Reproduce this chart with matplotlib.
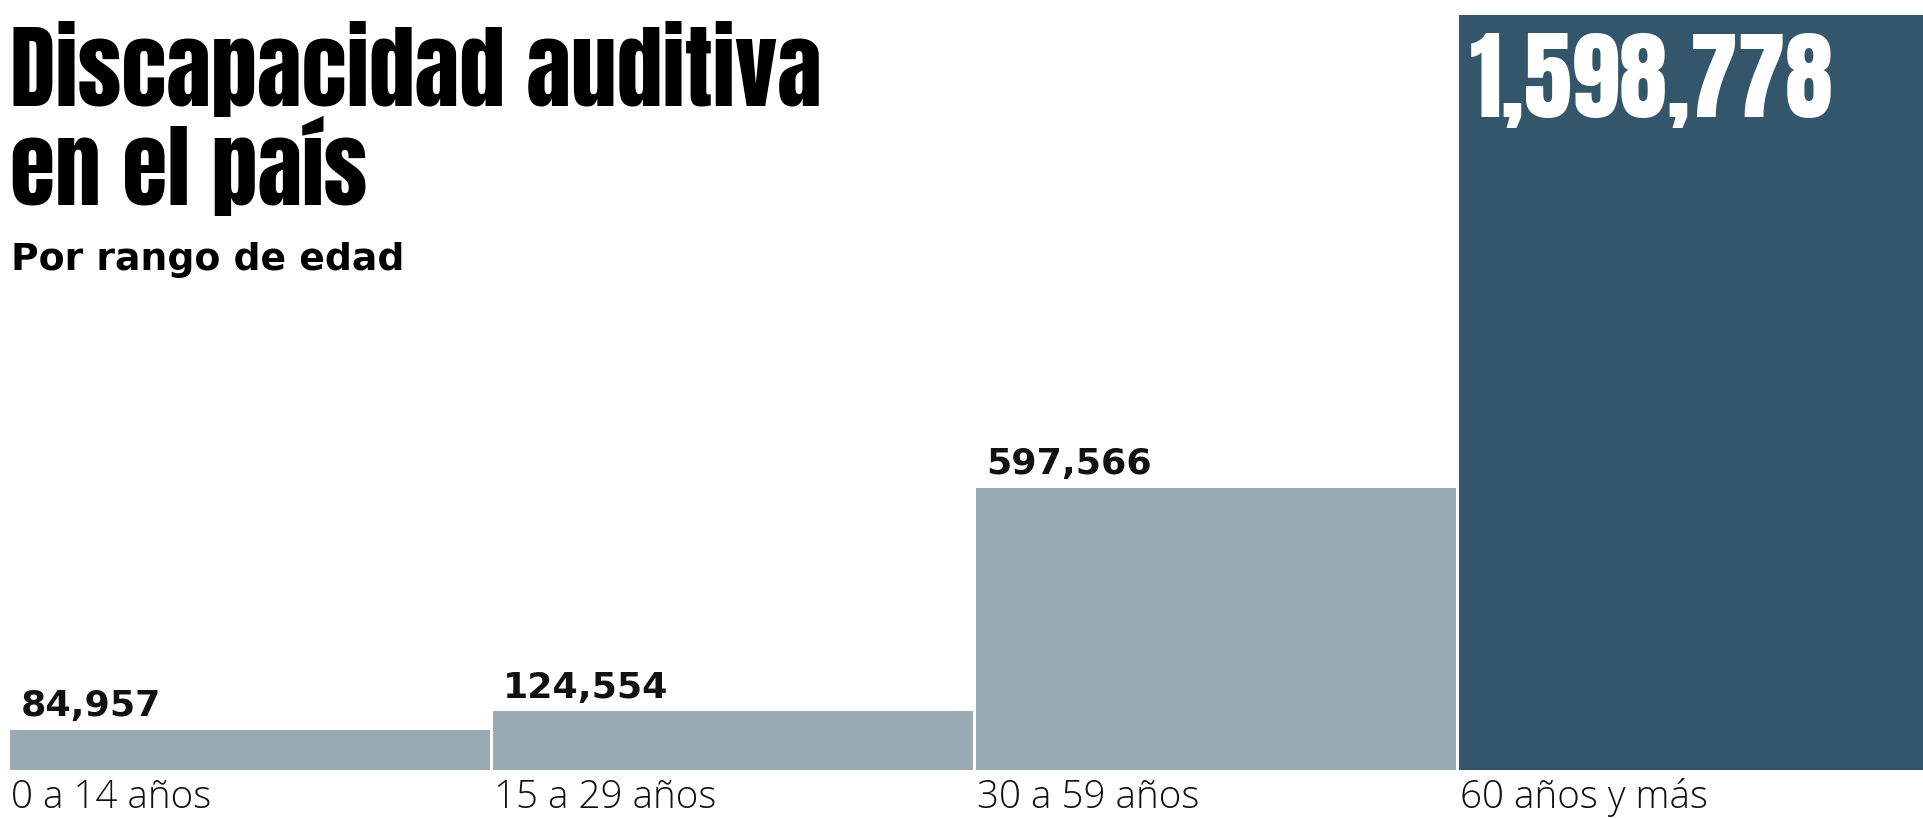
import matplotlib
matplotlib.use('Agg')
import matplotlib.pyplot as plt
from matplotlib import font_manager as fm
from matplotlib.textpath import TextPath

# ---- data ----
categories = ['0 a 14 años', '15 a 29 años', '30 a 59 años', '60 años y más']
values = [84957, 124554, 597566, 1598778]
value_labels = ['84,957', '124,554', '597,566', '1,598,778']
title_lines = ['Discapacidad auditiva', 'en el país']
subtitle = 'Por rango de edad'

LIGHT = '#9AAAB4'
DARK = '#34566A'
bar_colors = [LIGHT, LIGHT, LIGHT, DARK]

names = {f.name for f in fm.fontManager.ttflist}
def pick(cands):
    for c in cands:
        if c in names:
            return c
    return 'DejaVu Sans'

TITLE_FONT = pick(['Anton', 'Fjalla One', 'Saira ExtraCondensed', 'Roboto Condensed'])
BOLD_FONT = pick(['DejaVu Sans'])
LIGHT_FONT = pick(['Open Sans', 'Roboto', 'DejaVu Sans'])

def size_for_cap(family, weight, cap_px):
    fp = fm.FontProperties(family=family, weight=weight)
    h = TextPath((0, 0), 'H', prop=fp, size=100).get_extents().height
    return 100 * cap_px * 0.72 / h

W, H = 1923, 819
fig = plt.figure(figsize=(W / 100, H / 100), dpi=100)
slot = 483
ax = fig.add_axes([10 / W, 1 - 770 / H, 4 * slot / W, (770 - 15) / H])
xs = list(range(len(values)))
ax.bar(xs, values, width=480 / 483, align='edge', color=bar_colors, linewidth=0)
ax.set_xlim(0, 4)
ax.set_ylim(0, max(values))
ax.axis('off')

fs_val = size_for_cap(BOLD_FONT, 'bold', 26.5)
fs_big = size_for_cap(TITLE_FONT, 'bold', 83)
fs_cat = size_for_cap(LIGHT_FONT, 'light', 27.5)
fs_title = size_for_cap(TITLE_FONT, 'bold', 79)
fs_sub = size_for_cap(BOLD_FONT, 'bold', 27.5)

for i, (v, lab, cat) in enumerate(zip(values, value_labels, categories)):
    if i < len(values) - 1:
        ax.annotate(lab, xy=(i, v), xytext=(7.5, 9.8), textcoords='offset points',
                    ha='left', va='baseline', fontsize=fs_val, fontweight='bold',
                    family=BOLD_FONT, color='#111111')
    else:
        ax.annotate(lab, xy=(i, v), xytext=(8, -73.4), textcoords='offset points',
                    ha='left', va='baseline', fontsize=fs_big, fontweight='bold',
                    family=TITLE_FONT, color='white')
    ax.annotate(cat, xy=(i, 0), xytext=(0.5, -27.4), textcoords='offset points',
                ha='left', va='baseline', fontsize=fs_cat, fontweight='light',
                family=LIGHT_FONT, color='#111111')

fig.text(10 / W, 1 - 106 / H, title_lines[0], ha='left', va='baseline',
         fontsize=fs_title, fontweight='bold', family=TITLE_FONT, color='black')
fig.text(10 / W, 1 - 205 / H, title_lines[1], ha='left', va='baseline',
         fontsize=fs_title, fontweight='bold', family=TITLE_FONT, color='black')
fig.text(11 / W, 1 - 270 / H, subtitle, ha='left', va='baseline',
         fontsize=fs_sub, fontweight='bold', family=BOLD_FONT, color='black')

fig.savefig('out.png', dpi=100)
